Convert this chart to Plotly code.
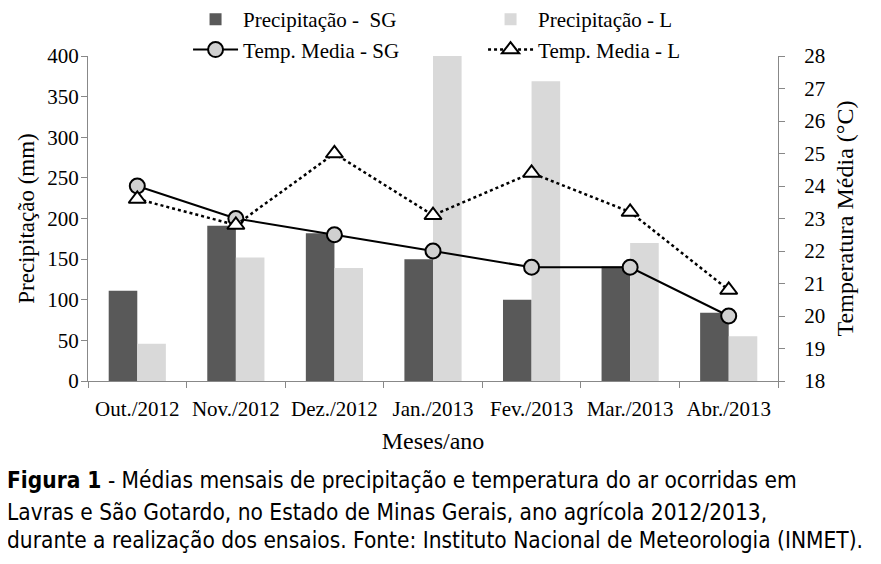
import plotly.graph_objects as go

meses = ["Out./2012", "Nov./2012", "Dez./2012", "Jan./2013", "Fev./2013", "Mar./2013", "Abr./2013"]
prec_sg = [111, 191, 182, 150, 100, 141, 84]
prec_l = [46, 152, 139, 400, 369, 170, 55]
temp_sg = [24.0, 23.0, 22.5, 22.0, 21.5, 21.5, 20.0]
temp_l = [23.6, 22.8, 25.0, 23.1, 24.4, 23.2, 20.8]

serif = "Liberation Serif"
nb = "\u00a0"

fig = go.Figure()
fig.add_trace(go.Bar(x=meses, y=prec_sg, name="Precipitação -" + nb + nb + "SG",
                     marker_color="#595959", marker_line_width=0))
fig.add_trace(go.Bar(x=meses, y=prec_l, name="Precipitação - L",
                     marker_color="#d9d9d9", marker_line_width=0))
fig.add_trace(go.Scatter(x=meses, y=temp_sg, name="Temp. Media - SG", yaxis="y2",
                         mode="lines+markers",
                         line=dict(color="black", width=2),
                         marker=dict(symbol="circle", size=15, color="#d0d0d0",
                                     line=dict(color="black", width=2))))
fig.add_trace(go.Scatter(x=meses, y=temp_l, name="Temp. Media - L", yaxis="y2",
                         mode="lines+markers",
                         line=dict(color="black", width=2.5, dash="dot"),
                         marker=dict(symbol="triangle-up", size=15, color="white",
                                     line=dict(color="black", width=2))))

# the page body adds 8px around the figure
axis_gray = "#888888"
fig.update_layout(
    width=881, height=564,
    margin=dict(l=80, r=111, t=48, b=191, autoexpand=False),
    paper_bgcolor="white", plot_bgcolor="white",
    barmode="group", bargap=0.42, bargroupgap=0,
    font=dict(family=serif, size=20, color="black"),
    showlegend=True,
    legend=dict(orientation="h", x=0.145, y=1.175, xanchor="left", yanchor="top",
                entrywidth=235, entrywidthmode="pixels", itemwidth=45,
                font=dict(family=serif, size=21),
                bgcolor="rgba(0,0,0,0)"),
    xaxis=dict(showline=True, linecolor=axis_gray, linewidth=1, automargin=False,
               ticks="outside", tickson="boundaries", tickcolor=axis_gray, ticklen=6,
               tickfont=dict(size=21), tickangle=0, ticklabelstandoff=9,
               title=dict(text="Meses/ano", font=dict(size=24), standoff=11)),
    yaxis=dict(range=[0, 400], dtick=50, showgrid=False, zeroline=False, automargin=False,
               showline=True, linecolor=axis_gray, ticks="outside", tickcolor=axis_gray,
               ticklen=6, tickfont=dict(size=21), ticklabelstandoff=-2,
               title=dict(text="Precipitação (mm)", font=dict(size=23), standoff=6)),
    yaxis2=dict(range=[18, 28], dtick=1, overlaying="y", side="right", showgrid=False,
                zeroline=False, automargin=False,
                showline=True, linecolor=axis_gray, ticks="outside",
                tickcolor=axis_gray, ticklen=6, tickfont=dict(size=21), ticklabelstandoff=15,
                title=dict(text="Temperatura Média (°C)", font=dict(size=24), standoff=11)),
)

cap_font = dict(family="DejaVu Sans Condensed, DejaVu Sans", size=22.5, color="black")
captions = [
    "<b>Figura 1</b> - Médias mensais de precipitação e temperatura do ar ocorridas em",
    "Lavras e São Gotardo, no Estado de Minas Gerais, ano agrícola 2012/2013,",
    "durante a realização dos ensaios. Fonte: Instituto Nacional de Meteorologia (INMET).",
]
cap_y = [480, 512, 540]
for txt, yy in zip(captions, cap_y):
    fig.add_annotation(text=txt, xref="paper", yref="paper", x=(5 - 88) / 690,
                       y=-(yy - 381) / 325, xanchor="left", yanchor="middle",
                       showarrow=False, font=cap_font)

fig.write_html("out.html")
